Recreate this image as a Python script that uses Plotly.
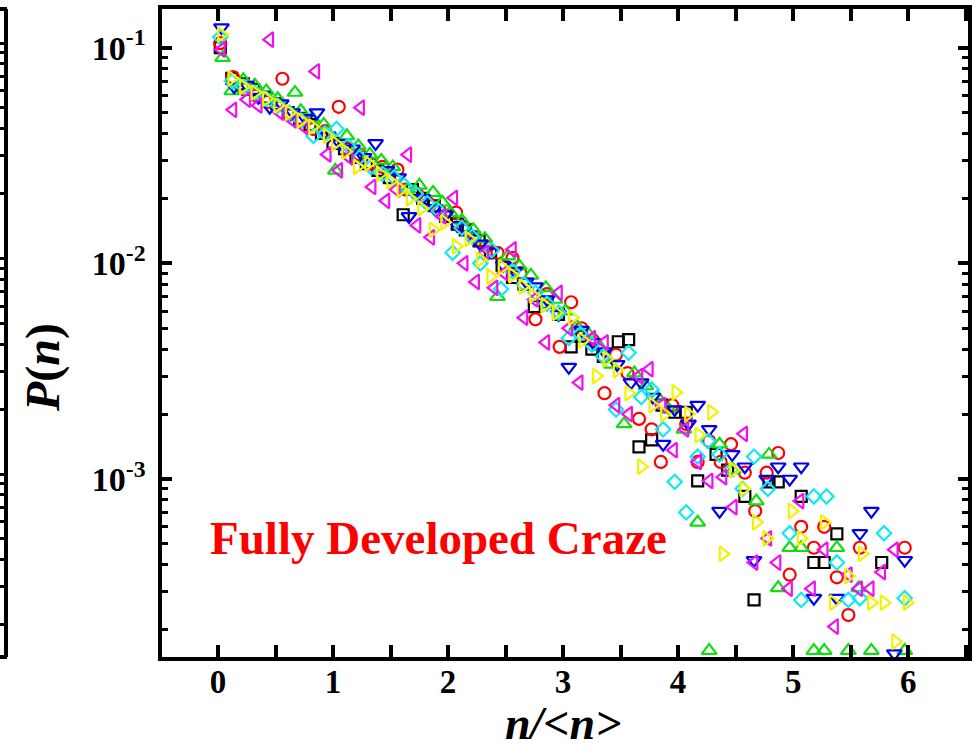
import plotly.graph_objects as go

# ---- data: normalised cluster size n/<n> and probability P(n), one list pair per series ----
x_black = [0.02, 0.12, 0.22, 0.31, 0.41, 0.51, 0.61, 0.71, 0.80, 0.90, 1.00, 1.10, 1.20, 1.29, 1.39,
           1.49, 1.61, 1.69, 1.78, 1.88, 1.98, 2.08, 2.15, 2.27, 2.37, 2.47, 2.56, 2.66, 2.75, 2.86,
           2.96, 3.07, 3.16, 3.25, 3.35, 3.48, 3.57, 3.66, 3.77, 3.86, 3.97, 4.07, 4.17, 4.33, 4.43,
           4.58, 4.66, 4.79, 4.87, 5.07, 5.18, 5.27, 5.38, 5.77]
p_black = [0.100, 0.072, 0.068, 0.064, 0.059, 0.055, 0.050, 0.047, 0.044, 0.040, 0.036, 0.034, 0.031, 0.029, 0.027,
           0.025, 0.0168, 0.022, 0.020, 0.0185, 0.0165, 0.0152, 0.0143, 0.0127, 0.0112, 0.0098, 0.0086, 0.0080, 0.0063, 0.0066,
           0.0058, 0.0041, 0.0046, 0.0040, 0.0037, 0.00433, 0.00443, 0.00141, 0.00152, 0.0022, 0.00204, 0.00204, 0.00098, 0.0013, 0.0011,
           0.00083, 0.000275, 0.00097, 0.00097, 0.00083, 0.00041, 0.00041, 0.000557, 0.00041]

x_red = [0.02, 0.13, 0.23, 0.33, 0.43, 0.56, 0.63, 0.73, 0.83, 0.93, 1.05, 1.13, 1.23, 1.33, 1.43,
         1.56, 1.63, 1.73, 1.83, 1.93, 2.07, 2.13, 2.23, 2.33, 2.43, 2.56, 2.63, 2.76, 2.86, 2.97,
         3.07, 3.16, 3.26, 3.36, 3.46, 3.56, 3.66, 3.77, 3.85, 3.95, 4.07, 4.17, 4.27, 4.37, 4.46,
         4.58, 4.67, 4.77, 4.87, 4.97, 5.07, 5.18, 5.27, 5.38, 5.48, 5.58, 5.97]
p_red = [0.105, 0.073, 0.064, 0.060, 0.056, 0.0718, 0.049, 0.046, 0.042, 0.041, 0.0532, 0.034, 0.032, 0.029, 0.028,
         0.0272, 0.022, 0.021, 0.019, 0.0175, 0.0172, 0.0148, 0.0132, 0.0120, 0.0112, 0.0106, 0.0090, 0.0055, 0.0072, 0.0041,
         0.0066, 0.0050, 0.0044, 0.0025, 0.00377, 0.0031, 0.0019, 0.0017, 0.0012, 0.0022, 0.0018, 0.0012, 0.0015, 0.0012, 0.00145,
         0.00107, 0.00071, 0.00107, 0.00132, 0.00036, 0.0006, 0.00048, 0.0006, 0.00035, 0.000234, 0.00048, 0.00048]

x_green = [0.04, 0.12, 0.22, 0.32, 0.42, 0.52, 0.67, 0.72, 0.82, 0.92, 1.02, 1.12, 1.22, 1.32, 1.42,
           1.52, 1.65, 1.75, 1.87, 1.95, 2.02, 2.12, 2.22, 2.32, 2.43, 2.52, 2.62, 2.72, 2.85, 2.93,
           3.02, 3.12, 3.22, 3.32, 3.42, 3.53, 3.62, 3.72, 3.82, 3.92, 4.05, 4.17, 4.27, 4.36, 4.48,
           4.68, 4.79, 4.87, 4.97, 5.07, 5.18, 5.27, 5.38, 5.48, 5.57, 5.68, 5.97]
p_green = [0.090, 0.063, 0.071, 0.067, 0.063, 0.058, 0.062, 0.051, 0.047, 0.044, 0.027, 0.039, 0.035, 0.032, 0.030,
           0.028, 0.022, 0.023, 0.0213, 0.0192, 0.0172, 0.0158, 0.0143, 0.0130, 0.0070, 0.0108, 0.0097, 0.0088, 0.0077, 0.0068,
           0.0060, 0.0051, 0.0047, 0.0041, 0.0034, 0.0018, 0.0031, 0.0027, 0.0024, 0.0021, 0.0017, 0.00063, 0.00016, 0.00145, 0.0011,
           0.00079, 0.0013, 0.000313, 0.00048, 0.00048, 0.00016, 0.00016, 0.00048, 0.00016, 0.000313, 0.00016, 0.00016]

x_blue = [0.03, 0.14, 0.25, 0.35, 0.45, 0.55, 0.65, 0.76, 0.86, 0.96, 1.06, 1.17, 1.27, 1.37, 1.47,
          1.57, 1.66, 1.78, 1.88, 1.98, 2.08, 2.18, 2.28, 2.38, 2.48, 2.58, 2.68, 2.76, 2.86, 2.96,
          3.05, 3.16, 3.26, 3.36, 3.47, 3.59, 3.68, 3.78, 3.87, 3.97, 4.09, 4.17, 4.27, 4.36, 4.47,
          4.58, 4.66, 4.77, 4.87, 4.97, 5.07, 5.18, 5.38, 5.58, 5.68, 5.88, 5.97]
p_blue = [0.124, 0.066, 0.067, 0.059, 0.053, 0.055, 0.050, 0.047, 0.050, 0.039, 0.036, 0.034, 0.031, 0.036, 0.027,
          0.025, 0.0165, 0.020, 0.0180, 0.0168, 0.0150, 0.0136, 0.0123, 0.0113, 0.0098, 0.0092, 0.0082, 0.0078, 0.0068, 0.0058,
          0.0033, 0.0049, 0.0043, 0.0039, 0.0034, 0.0028, 0.0028, 0.0024, 0.00145, 0.0021, 0.0018, 0.0022, 0.0017, 0.00071, 0.0013,
          0.00114, 0.00042, 0.0010, 0.00114, 0.0010, 0.00114, 0.00028, 0.00028, 0.00056, 0.00071, 0.000155, 0.00042]

x_cyan = [0.02, 0.12, 0.22, 0.32, 0.42, 0.52, 0.62, 0.72, 0.83, 0.93, 1.03, 1.13, 1.23, 1.33, 1.43,
          1.53, 1.62, 1.72, 1.82, 1.92, 2.04, 2.12, 2.21, 2.28, 2.38, 2.46, 2.56, 2.66, 2.76, 2.86,
          2.96, 3.05, 3.15, 3.25, 3.35, 3.46, 3.57, 3.68, 3.77, 3.87, 3.97, 4.07, 4.17, 4.26, 4.36,
          4.46, 4.56, 4.66, 4.78, 4.97, 5.07, 5.18, 5.29, 5.38, 5.48, 5.58, 5.79, 5.97]
p_cyan = [0.112, 0.070, 0.066, 0.062, 0.058, 0.054, 0.050, 0.046, 0.039, 0.040, 0.042, 0.035, 0.031, 0.028, 0.026,
          0.025, 0.023, 0.021, 0.019, 0.0175, 0.0112, 0.0146, 0.0133, 0.0100, 0.0115, 0.0076, 0.0092, 0.0080, 0.0073, 0.0065,
          0.0059, 0.0045, 0.0047, 0.0042, 0.0037, 0.0021, 0.00385, 0.0024, 0.0026, 0.0017, 0.00097, 0.0007, 0.00127, 0.0015, 0.0013,
          0.0011, 0.0009, 0.00127, 0.0009, 0.00056, 0.000275, 0.00083, 0.00083, 0.00041, 0.000275, 0.00028, 0.00056, 0.00028]

x_magenta = [0.03, 0.13, 0.25, 0.35, 0.45, 0.54, 0.65, 0.75, 0.85, 0.95, 1.05, 1.14, 1.24, 1.34, 1.46,
             1.55, 1.65, 1.73, 1.85, 1.95, 2.05, 2.14, 2.24, 2.32, 2.40, 2.49, 2.56, 2.66, 2.75, 2.85,
             2.96, 3.05, 3.14, 3.25, 3.36, 3.46, 3.57, 3.66, 3.75, 3.86, 3.96, 4.06, 4.17, 4.27, 4.39,
             4.48, 4.57, 4.66, 4.78, 4.86, 4.96, 5.06, 5.16, 5.27, 5.36, 5.48, 5.57, 5.67, 5.77, 5.88]
p_magenta = [0.098, 0.0515, 0.0575, 0.054, 0.109, 0.050, 0.046, 0.043, 0.0776, 0.032, 0.027, 0.031, 0.0527, 0.0226, 0.0195,
             0.022, 0.0319, 0.015, 0.0132, 0.0165, 0.0201, 0.0100, 0.0082, 0.0112, 0.0077, 0.0090, 0.0116, 0.0056, 0.0068, 0.0043,
             0.0073, 0.0050, 0.0028, 0.0045, 0.0043, 0.0022, 0.0020, 0.0030, 0.00323, 0.0022, 0.00136, 0.0017, 0.0012, 0.00098, 0.00102,
             0.00074, 0.00162, 0.00041, 0.00053, 0.00041, 0.00031, 0.00079, 0.00031, 0.00047, 0.000207, 0.00036, 0.00031, 0.00031, 0.00037, 0.00047]

x_yellow = [0.03, 0.12, 0.22, 0.32, 0.42, 0.52, 0.62, 0.72, 0.82, 0.95, 1.02, 1.11, 1.21, 1.31, 1.41,
            1.50, 1.59, 1.67, 1.77, 1.87, 1.97, 2.07, 2.18, 2.28, 2.37, 2.47, 2.56, 2.65, 2.74, 2.84,
            2.94, 3.08, 3.17, 3.29, 3.38, 3.47, 3.57, 3.68, 3.78, 3.88, 3.98, 4.09, 4.18, 4.29, 4.39,
            4.48, 4.57, 4.68, 4.77, 4.99, 5.07, 5.27, 5.35, 5.48, 5.60, 5.68, 5.79, 5.89, 5.99]
p_yellow = [0.115, 0.072, 0.066, 0.062, 0.058, 0.054, 0.050, 0.046, 0.043, 0.039, 0.036, 0.033, 0.028, 0.029, 0.026,
            0.024, 0.022, 0.020, 0.018, 0.0143, 0.0155, 0.0120, 0.0130, 0.0104, 0.0087, 0.0096, 0.0088, 0.0078, 0.0071, 0.0064,
            0.0059, 0.0056, 0.0044, 0.0030, 0.0036, 0.0032, 0.0025, 0.00114, 0.0022, 0.0020, 0.00252, 0.0020, 0.0016, 0.00204, 0.00045,
            0.0011, 0.0009, 0.00063, 0.00053, 0.00071, 0.00053, 0.00063, 0.000267, 0.000355, 0.00045, 0.000267, 0.000267, 0.000176, 0.000267]

series = [
    (x_black, p_black, "square-open", "#000000", 11),
    (x_red, p_red, "circle-open", "#FF0000", 12),
    (x_green, p_green, "triangle-up-open", "#11DD11", 13),
    (x_blue, p_blue, "triangle-down-open", "#0000F0", 13),
    (x_cyan, p_cyan, "diamond-open", "#11E8F0", 11),
    (x_magenta, p_magenta, "triangle-left-open", "#F010F0", 13),
    (x_yellow, p_yellow, "triangle-right-open", "#F2F200", 13),
]

x_tick_vals = [0, 1, 2, 3, 4, 5, 6]
y_tick_vals = [1e-3, 1e-2, 1e-1]
y_tick_text = ["10<sup>-3</sup>", "10<sup>-2</sup>", "10<sup>-1</sup>"]
y_minor_vals = [m * 10.0 ** e for e in (-4, -3, -2) for m in range(2, 10)]

W, H = 975, 749
FONT = "Liberation Serif"

fig = go.Figure()
for xs, ps, sym, col, size in series:
    fig.add_trace(go.Scatter(
        x=xs, y=ps, mode="markers", showlegend=False,
        marker=dict(symbol=sym, size=size, color=col, line=dict(color=col, width=2.2)),
    ))

# right edge of the neighbouring panel on the far left
fig.add_trace(go.Scatter(x=[None], y=[None], yaxis="y2", showlegend=False, hoverinfo="skip"))

frame_x = [161.5 / W, 968 / W]
frame_y = [(H - 657) / H, (H - 9) / H]

fig.update_layout(
    width=W, height=H, template="none",
    margin=dict(l=0, r=0, t=0, b=0),
    paper_bgcolor="white", plot_bgcolor="white",
    font=dict(family=FONT, color="black"),
    xaxis=dict(
        domain=frame_x, range=[-0.491, 6.52], automargin=False,
        showgrid=False, zeroline=False,
        showline=True, linecolor="black", linewidth=4, mirror="allticks",
        ticks="inside", ticklen=12, tickwidth=3.5, tickcolor="black",
        tickmode="array", tickvals=x_tick_vals, ticktext=[str(v) for v in x_tick_vals],
        tickfont=dict(family=FONT, size=33, weight="bold", color="black"),
        ticklabelstandoff=-8,
        minor=dict(ticks="inside", ticklen=6, tickwidth=3.5, tickcolor="black", dtick=0.5, tick0=0, showgrid=False),
    ),
    yaxis=dict(
        domain=frame_y, type="log", range=[-3.8254, -0.8205], automargin=False,
        showgrid=False, zeroline=False,
        showline=True, linecolor="black", linewidth=4, mirror="allticks",
        ticks="inside", ticklen=10, tickwidth=3.5, tickcolor="black",
        tickmode="array", tickvals=y_tick_vals, ticktext=y_tick_text,
        tickfont=dict(family=FONT, size=34, weight="bold", color="black"),
        ticklabelstandoff=5,
        minor=dict(ticks="inside", ticklen=6, tickwidth=3, tickcolor="black",
                   tickmode="array", tickvals=y_minor_vals, showgrid=False),
    ),
    yaxis2=dict(
        overlaying="y", anchor="free", position=5.5 / W, side="right",
        type="log", range=[-3.849, -0.842], automargin=False,
        showgrid=False, zeroline=False, showticklabels=False,
        showline=True, linecolor="black", linewidth=4,
        ticks="inside", ticklen=7, tickwidth=3, tickcolor="black",
        tickmode="array", tickvals=y_tick_vals,
        minor=dict(ticks="inside", ticklen=6, tickwidth=3, tickcolor="black",
                   tickmode="array", tickvals=y_minor_vals, showgrid=False),
    ),
    shapes=[
        dict(type="line", xref="paper", yref="paper", x0=0, x1=7 / W, y0=frame_y[1], y1=frame_y[1],
             line=dict(color="black", width=4)),
        dict(type="line", xref="paper", yref="paper", x0=0, x1=7 / W, y0=frame_y[0], y1=frame_y[0],
             line=dict(color="black", width=4)),
    ],
    annotations=[
        dict(text="<b><i>P</i>(<i>n</i>)</b>", xref="paper", yref="paper",
             x=43 / W, y=(H - 368) / H, xanchor="center", yanchor="middle",
             textangle=-90, showarrow=False, font=dict(family=FONT, size=48, color="black")),
        dict(text="<b><i>n</i>/&lt;<i>n</i>&gt;</b>", xref="paper", yref="paper",
             x=563 / W, y=(H - 723) / H, xanchor="center", yanchor="middle",
             showarrow=False, font=dict(family=FONT, size=46, color="black", style="italic")),
        dict(text="<b>Fully Developed Craze</b>", xref="paper", yref="paper",
             x=438 / W, y=(H - 538) / H, xanchor="center", yanchor="middle",
             showarrow=False, font=dict(family=FONT, size=47, color="#FF0000")),
    ],
)

fig.write_html("out.html")
